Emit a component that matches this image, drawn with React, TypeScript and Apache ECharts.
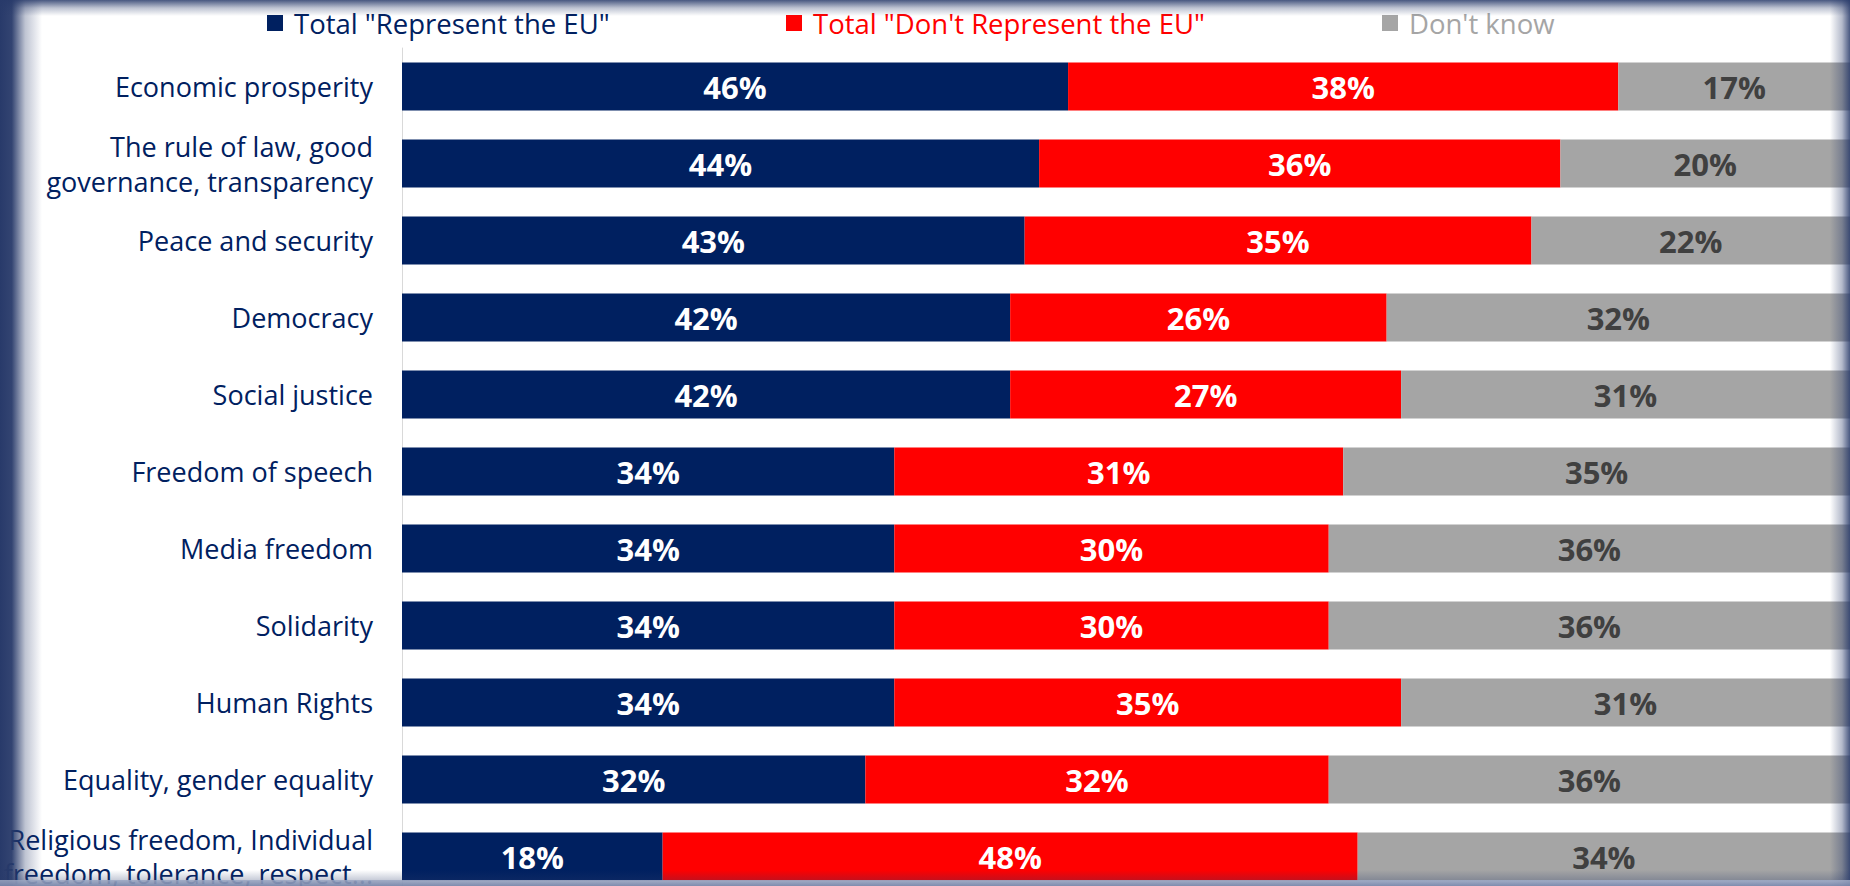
import React, { useEffect, useRef } from "react";
import * as echarts from "echarts";

const categories = [
  "Economic prosperity",
  "The rule of law, good\ngovernance, transparency",
  "Peace and security",
  "Democracy",
  "Social justice",
  "Freedom of speech",
  "Media freedom",
  "Solidarity",
  "Human Rights",
  "Equality, gender equality",
  "Religious freedom, Individual\nfreedom, tolerance, respect...",
];

const seriesNames = ['Total "Represent the EU"', 'Total "Don\'t Represent the EU"', "Don't know"];
const represent = [46, 44, 43, 42, 42, 34, 34, 34, 34, 32, 18];
const dontRepresent = [38, 36, 35, 26, 27, 31, 30, 30, 35, 32, 48];
const dontKnow = [17, 20, 22, 32, 31, 35, 36, 36, 31, 36, 34];

const colors = ["#002060", "#FF0000", "#A5A5A5"];
const labelColors = ["#FFFFFF", "#FFFFFF", "#404040"];
const legendTextColors = ["#002060", "#FF0000", "#A5A5A5"];
const legendLefts = [262, 781, 1377];

const FONT = "Open Sans";
const FRAME = "40,58,106";

export default function App() {
  const ref = useRef<HTMLDivElement>(null);
  useEffect(() => {
    if (!ref.current) return;
    const chart = echarts.init(ref.current, undefined, { renderer: "svg" });
    const values = [represent, dontRepresent, dontKnow];
    const grad = (x1: number, y1: number, x2: number, y2: number, stops: [number, string][]) =>
      new echarts.graphic.LinearGradient(x1, y1, x2, y2, stops.map(([offset, color]) => ({ offset, color })));
    const yData = categories.map((c, i) =>
      i === categories.length - 1
        ? { value: c, textStyle: { lineHeight: 34, padding: [0, 0, 10, 0] } }
        : c
    );
    chart.setOption({
      animation: false,
      backgroundColor: "#FFFFFF",
      legend: seriesNames.map((n, i) => ({
        data: [{ name: n, textStyle: { color: legendTextColors[i] } }],
        left: legendLefts[i],
        top: 4,
        icon: "rect",
        itemWidth: 16,
        itemHeight: 16,
        selectedMode: false,
        textStyle: { fontFamily: FONT, fontSize: 27.5, padding: [0, 0, 0, 6] },
      })),
      grid: { left: 402, right: 0, top: 48, height: 847, containLabel: false, outerBoundsMode: "none" },
      xAxis: {
        type: "value",
        min: 0,
        max: 100,
        show: false,
      },
      yAxis: {
        type: "category",
        data: yData,
        inverse: true,
        axisLine: { show: true, lineStyle: { color: "#D9D9D9", width: 1 } },
        axisTick: { show: false },
        axisLabel: {
          margin: 29,
          fontFamily: FONT,
          fontSize: 27,
          lineHeight: 35,
          color: "#002060",
          align: "right",
        },
      },
      series: seriesNames.map((n, i) => ({
        name: n,
        type: "bar",
        stack: "total",
        barWidth: 48,
        data: values[i],
        itemStyle: { color: colors[i] },
        label: {
          show: true,
          position: "inside",
          formatter: "{c}%",
          fontFamily: FONT,
          fontWeight: "bold",
          fontSize: 31,
          color: labelColors[i],
        },
      })),
      graphic: [
        {
          type: "rect",
          z: 100,
          shape: { x: 0, y: 0, width: 42, height: 886 },
          style: { fill: grad(0, 0, 1, 0, [[0, `rgba(${FRAME},1)`], [0.28, `rgba(${FRAME},0.95)`], [0.6, `rgba(${FRAME},0.3)`], [1, `rgba(${FRAME},0)`]]) },
          silent: true,
        },
        {
          type: "rect",
          z: 100,
          shape: { x: 1830, y: 0, width: 20, height: 886 },
          style: { fill: grad(0, 0, 1, 0, [[0, `rgba(${FRAME},0)`], [0.6, `rgba(${FRAME},0.35)`], [1, `rgba(${FRAME},0.85)`]]) },
          silent: true,
        },
        {
          type: "rect",
          z: 100,
          shape: { x: 0, y: 0, width: 1850, height: 16 },
          style: { fill: grad(0, 0, 0, 1, [[0, `rgba(${FRAME},0.85)`], [0.5, `rgba(${FRAME},0.3)`], [1, `rgba(${FRAME},0)`]]) },
          silent: true,
        },
        {
          type: "rect",
          z: 100,
          shape: { x: 0, y: 870, width: 1850, height: 16 },
          style: { fill: grad(0, 0, 0, 1, [[0, `rgba(${FRAME},0)`], [0.6, `rgba(${FRAME},0.25)`], [0.65, `rgba(150,162,190,0.9)`], [1, `rgba(120,134,170,0.95)`]]) },
          silent: true,
        },
      ],
    });
    return () => chart.dispose();
  }, []);
  return (
    <div
      ref={ref}
      style={{ position: "absolute", left: 0, top: 0, width: 1850, height: 886 }}
    />
  );
}
